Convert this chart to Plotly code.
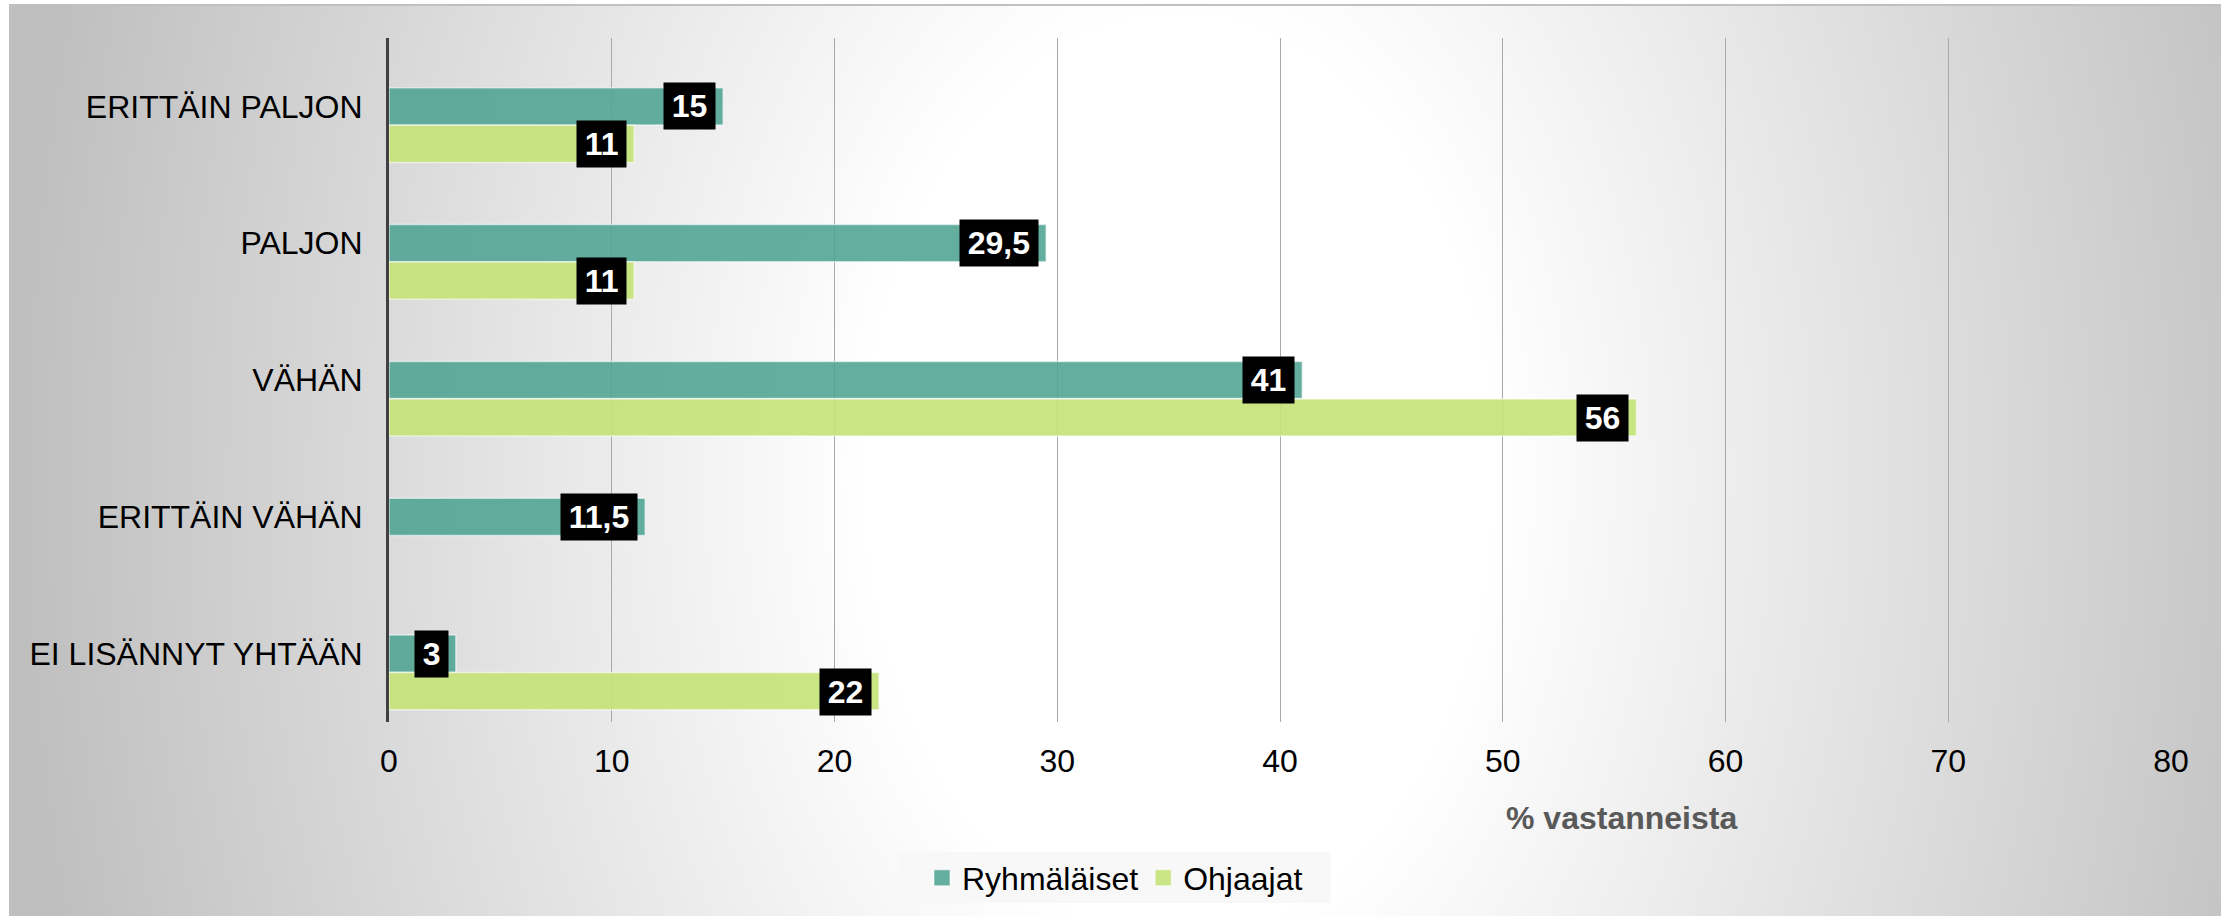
import base64
import plotly.graph_objects as go

categories = ["ERITTÄIN PALJON", "PALJON", "VÄHÄN", "ERITTÄIN VÄHÄN", "EI LISÄNNYT YHTÄÄN"]
ryhmalaiset = [15, 29.5, 41, 11.5, 3]
ohjaajat = [11, 11, 56, None, 22]
series_names = ["Ryhmäläiset", "Ohjaajat"]
x_ticks = [0, 10, 20, 30, 40, 50, 60, 70, 80]
x_title = "% vastanneista"

W, H = 2221, 916
FONT = "Liberation Sans, Arial, sans-serif"
TEAL = "rgba(79,163,146,0.88)"
LIME = "rgba(196,226,117,0.9)"

def fmt(v):
    return (f"{v:g}").replace(".", ",")

# background: radial gradient panel
svg = '''<svg xmlns="http://www.w3.org/2000/svg" width="2212" height="911" viewBox="0 0 2212 911">
<defs><radialGradient id="g" gradientUnits="userSpaceOnUse" cx="0" cy="0" r="1"
 gradientTransform="translate(1170 470) scale(1160 1700)">
<stop offset="0" stop-color="#ffffff"/>
<stop offset="0.27" stop-color="#ffffff"/>
<stop offset="1" stop-color="#bfbfbf"/>
</radialGradient></defs>
<rect x="0" y="0" width="2212" height="911" fill="url(#g)"/>
</svg>'''
src = "data:image/svg+xml;base64," + base64.b64encode(svg.encode()).decode()

fig = go.Figure()
fig.add_trace(go.Bar(
    y=categories, x=ryhmalaiset, name=series_names[0], orientation="h",
    marker=dict(color=TEAL, line=dict(color="rgba(255,255,255,0.55)", width=1.5)),
    width=0.272, offset=-0.136, hoverinfo="x+y", showlegend=False, legendgroup="a",
))
fig.add_trace(go.Bar(
    y=categories, x=ohjaajat, name=series_names[1], orientation="h",
    marker=dict(color=LIME, line=dict(color="rgba(255,255,255,0.55)", width=1.5)),
    width=0.272, offset=0.138, hoverinfo="x+y", showlegend=False, legendgroup="b",
))
# legend entries (square swatches)
for name, col, grp in ((series_names[0], TEAL, "a"), (series_names[1], LIME, "b")):
    fig.add_trace(go.Scatter(
        x=[None], y=[None], mode="markers", name=name, legendgroup=grp,
        marker=dict(symbol="square", size=16, color=col, line=dict(color="rgba(255,255,255,0.6)", width=1)),
    ))

annotations = []
for vals, yshift in ((ryhmalaiset, 0), (ohjaajat, -38)):
    for cat, v in zip(categories, vals):
        if v is None:
            continue
        annotations.append(dict(
            x=v, y=cat, xref="x", yref="y", text="<b>\u200a" + fmt(v) + "\u200a</b>",
            showarrow=False, xanchor="right", yanchor="middle", xshift=-7, yshift=yshift,
            bgcolor="#000000", borderpad=5, font=dict(family=FONT, size=32, color="white"),
        ))
annotations.append(dict(
    x=1621 / W, y=1 - 818 / H, xref="paper", yref="paper", text="<b>" + x_title + "</b>",
    showarrow=False, xanchor="center", yanchor="middle",
    font=dict(family=FONT, size=32, color="#595959"),
))

fig.update_layout(
    width=W, height=H, autosize=False,
    margin=dict(l=0, r=0, t=0, b=0, autoexpand=False),
    paper_bgcolor="white", plot_bgcolor="rgba(0,0,0,0)",
    barmode="overlay",
    font=dict(family=FONT, size=32, color="#000000"),
    showlegend=True,
    legend=dict(orientation="h", x=1115 / W, xanchor="center", y=1 - 878 / H, yanchor="middle",
                bgcolor="rgba(0,0,0,0)", font=dict(family=FONT, size=32, color="#000000"),
                traceorder="normal", itemsizing="trace"),
    xaxis=dict(domain=[389 / W, 2171 / W], range=[0, 80], tickvals=x_ticks,
               showgrid=True, gridcolor="#a9a9a9", gridwidth=1, zeroline=False,
               showline=False, ticks="", ticklabelstandoff=17, automargin=False,
               tickfont=dict(family=FONT, size=32, color="#000000"), fixedrange=True),
    yaxis=dict(domain=[1 - 722 / H, 1 - 38 / H], autorange="reversed", type="category",
               showgrid=False, zeroline=False, showline=True, linecolor="#404040", linewidth=3,
               ticks="", ticklabelstandoff=17, automargin=False,
               tickfont=dict(family=FONT, size=32, color="#000000"), fixedrange=True),
    annotations=annotations,
    images=[dict(source=src, xref="paper", yref="paper", x=9 / W, y=1 - 5 / H,
                 sizex=2212 / W, sizey=911 / H, sizing="stretch", xanchor="left", yanchor="top",
                 layer="below")],
    shapes=[
        dict(type="line", xref="paper", yref="paper", x0=9 / W, x1=1, y0=1 - 5 / H, y1=1 - 5 / H,
             line=dict(color="#c0c0c0", width=2)),
        dict(type="rect", xref="paper", yref="paper", x0=899 / W, x1=1331 / W,
             y0=1 - 903 / H, y1=1 - 852 / H, fillcolor="#f8f8f8", line=dict(width=0), layer="below"),
    ],
)

fig.write_html("out.html", config={"displayModeBar": False},
               post_script="document.body.style.margin='0px';document.body.style.overflow='hidden';")
